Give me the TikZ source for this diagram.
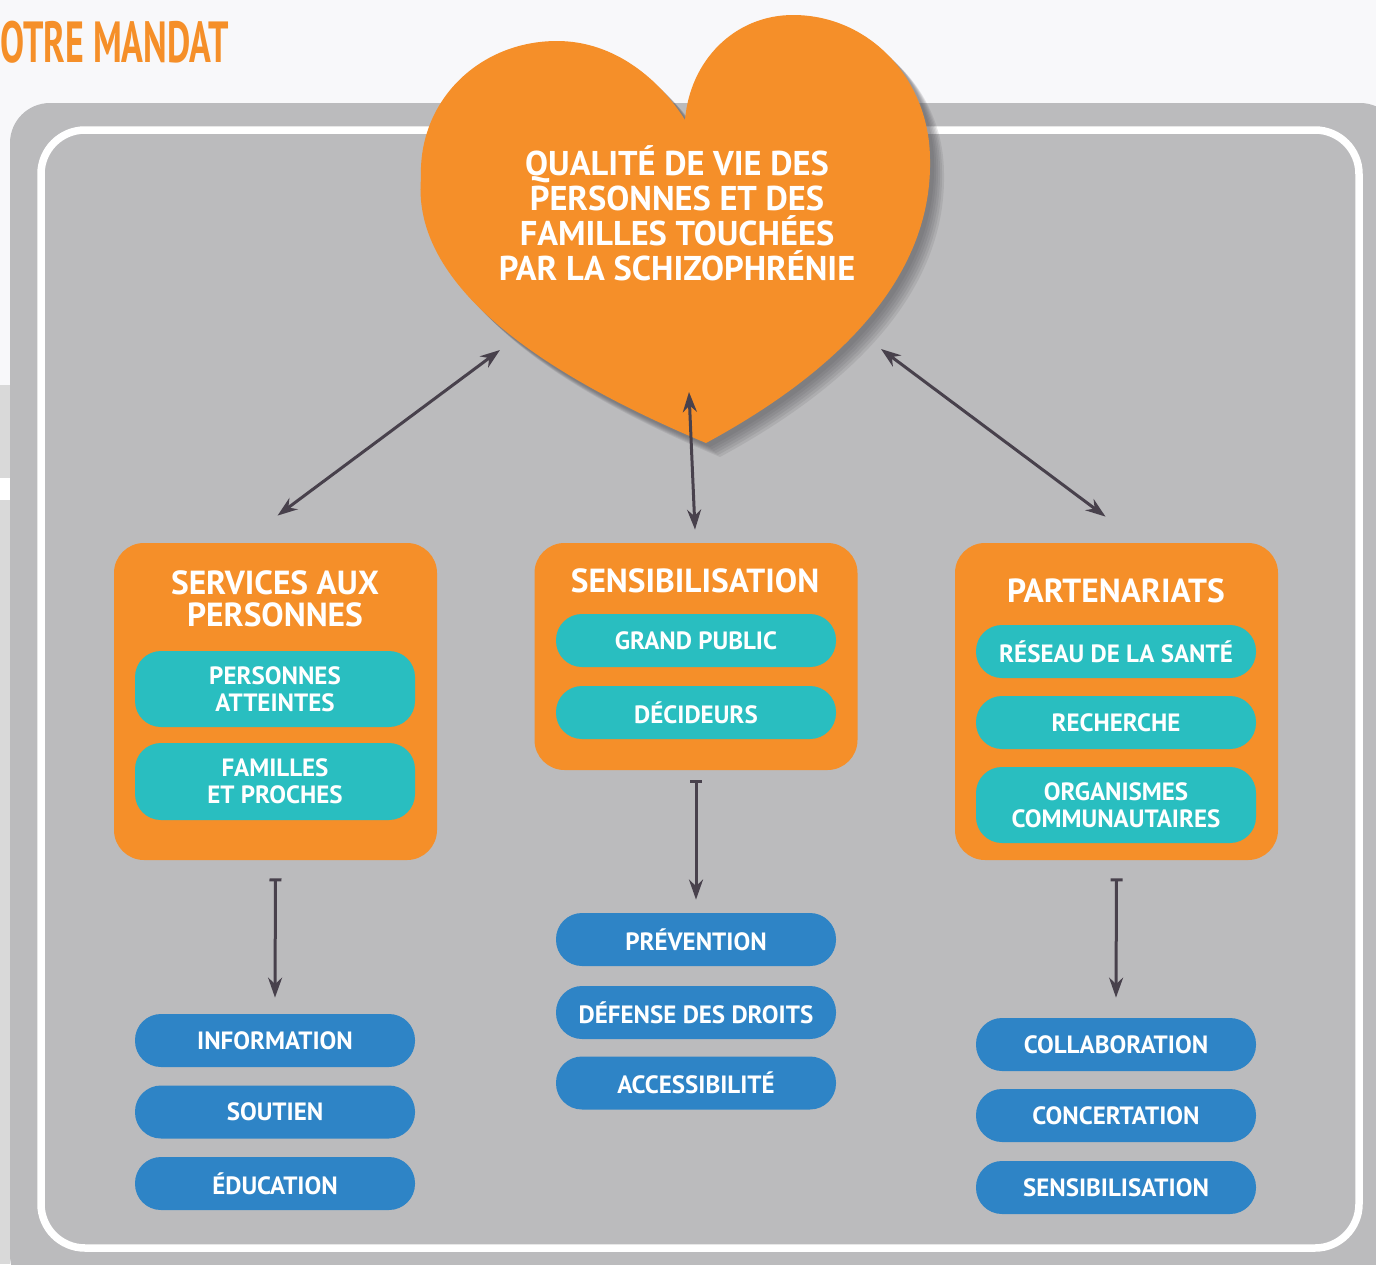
\documentclass[tikz,border=0pt]{standalone}
\usepackage{fontspec}
\setmainfont{PT Sans}
\newfontfamily\titlefont[FakeStretch=0.62]{PT Sans}
\usetikzlibrary{arrows.meta,positioning}

\definecolor{pagewhite}{HTML}{F8F8FA}
\definecolor{panelgray}{HTML}{BBBBBD}
\definecolor{stripgray}{HTML}{D9D9D9}
\definecolor{shadowgray}{HTML}{4E4C52}
\definecolor{mandatorange}{HTML}{F58F29}
\definecolor{pillteal}{HTML}{29BEC0}
\definecolor{pillblue}{HTML}{2E84C6}
\definecolor{arrowgray}{HTML}{48414C}

\tikzset{
  box/.style={fill=mandatorange, rounded corners=15pt, minimum width=161.5pt, inner sep=0pt},
  head/.style={text=white, font=\bfseries\fontsize{16.7}{16}\selectfont, align=center},
  pill/.style={text=white, font=\bfseries\fontsize{12.5}{13.5}\selectfont, align=center,
    rounded corners=13pt, minimum width=140pt, minimum height=26.5pt, inner sep=0pt},
  tealpill/.style={pill, fill=pillteal},
  bluepill/.style={pill, fill=pillblue},
  link/.style={draw=arrowgray, line width=1.5pt,
    {Stealth[length=10pt,width=7pt]}-{Stealth[length=10pt,width=7pt]}},
  down/.style={draw=arrowgray, line width=1.5pt,
    {Bar[width=6pt]}-{Stealth[length=10pt,width=7pt]}}
}

\def\heartpath{(706,443) .. controls (580,390) and (410,300) .. (421,178)
  .. controls (418,100) and (480,41) .. (557,41)
  .. controls (615,41) and (660,80) .. (685,120)
  .. controls (690,60) and (735,15) .. (793,15)
  .. controls (870,15) and (930,80) .. (930,160)
  .. controls (932,270) and (850,365) .. (706,443) -- cycle}

\begin{document}
\begin{tikzpicture}[x=0.5pt, y=-0.5pt]
	\fill[pagewhite] (0,0) rectangle (1376,1264);
	\useasboundingbox (0,0) rectangle (1376,1264);
	\fill[stripgray] (0,385) rectangle (10,1264);
	\fill[white] (0,478) rectangle (10,500);
	\fill[panelgray, rounded corners=20pt] (10,103) rectangle (1400,1295);
	\draw[white, line width=3.75pt, rounded corners=22pt] (41,130) rectangle (1359,1248);

	\node[anchor=base west, inner sep=0pt, text=mandatorange, font=\titlefont\bfseries\fontsize{29}{29}\selectfont] (title) at (0,62) {OTRE MANDAT};

	% heart
	\foreach \d in {4,6,...,14}
		\fill[shadowgray, opacity=0.12, shift={(\d,\d)}] \heartpath;
	\fill[mandatorange] \heartpath;
	\node[text=white, font=\bfseries\fontsize{17.2}{17.5}\selectfont, align=center] (quality) at (677,213)
		{QUALITÉ DE VIE DES\\PERSONNES ET DES\\FAMILLES TOUCHÉES\\PAR LA SCHIZOPHRÉNIE};

	% three orange boxes
	\node[box, minimum height=158.5pt] (services) at (275.5,701.5) {};
	\node[box, minimum height=113.5pt] (sensib) at (696,656.5) {};
	\node[box, minimum height=158.5pt] (partner) at (1116.5,701.5) {};
	\node[head] (servicesT) at (275,599) {SERVICES AUX\\PERSONNES};
	\node[head] (sensibT) at (695,581) {SENSIBILISATION};
	\node[head] (partnerT) at (1116,591) {PARTENARIATS};

	\node[tealpill, minimum height=38pt] (atteintes) at (275,689) {PERSONNES\\ATTEINTES};
	\node[tealpill, minimum height=38.5pt] (familles) at (275,781.5) {FAMILLES\\ET PROCHES};
	\node[tealpill] (public) at (696,640.5) {GRAND PUBLIC};
	\node[tealpill] (decideurs) at (696,712.5) {DÉCIDEURS};
	\node[tealpill] (sante) at (1116,651.5) {RÉSEAU DE LA SANTÉ};
	\node[tealpill] (recherche) at (1116,722.5) {RECHERCHE};
	\node[tealpill, minimum height=38pt] (organismes) at (1116,805) {ORGANISMES\\COMMUNAUTAIRES};

	% blue pills
	\node[bluepill] (information) at (275,1040.5) {INFORMATION};
	\node[bluepill] (soutien) at (275,1112) {SOUTIEN};
	\node[bluepill] (education) at (275,1183.5) {ÉDUCATION};
	\node[bluepill] (prevention) at (696,939.5) {PRÉVENTION};
	\node[bluepill] (defense) at (696,1012.5) {DÉFENSE DES DROITS};
	\node[bluepill] (accessibilite) at (696,1083) {ACCESSIBILITÉ};
	\node[bluepill] (collaboration) at (1116,1044.5) {COLLABORATION};
	\node[bluepill] (concertation) at (1116,1115.5) {CONCERTATION};
	\node[bluepill] (sensibilisation) at (1116,1187.5) {SENSIBILISATION};

	% connectors
	\coordinate (heartL) at (500,350);
	\coordinate (heartM) at (689,392);
	\coordinate (heartR) at (881,349);
	\coordinate[above=13.5pt of services.north, xshift=1pt] (servicesIn);
	\coordinate[above=6.5pt of sensib.north, xshift=-0.5pt] (sensibIn);
	\coordinate[above=13pt of partner.north, xshift=-5.5pt] (partnerIn);
	\draw[link] (heartL) -- (servicesIn);
	\draw[link] (heartM) -- (sensibIn);
	\draw[link] (heartR) -- (partnerIn);

	\coordinate[below=9pt of services.south] (servicesOut);
	\coordinate[below=5pt of sensib.south] (sensibOut);
	\coordinate[below=9pt of partner.south] (partnerOut);
	\draw[down] (servicesOut) -- ([yshift=8pt]information.north);
	\draw[down] (sensibOut) -- ([yshift=6.5pt]prevention.north);
	\draw[down] (partnerOut) -- ([yshift=10pt]collaboration.north);
\end{tikzpicture}
\end{document}
